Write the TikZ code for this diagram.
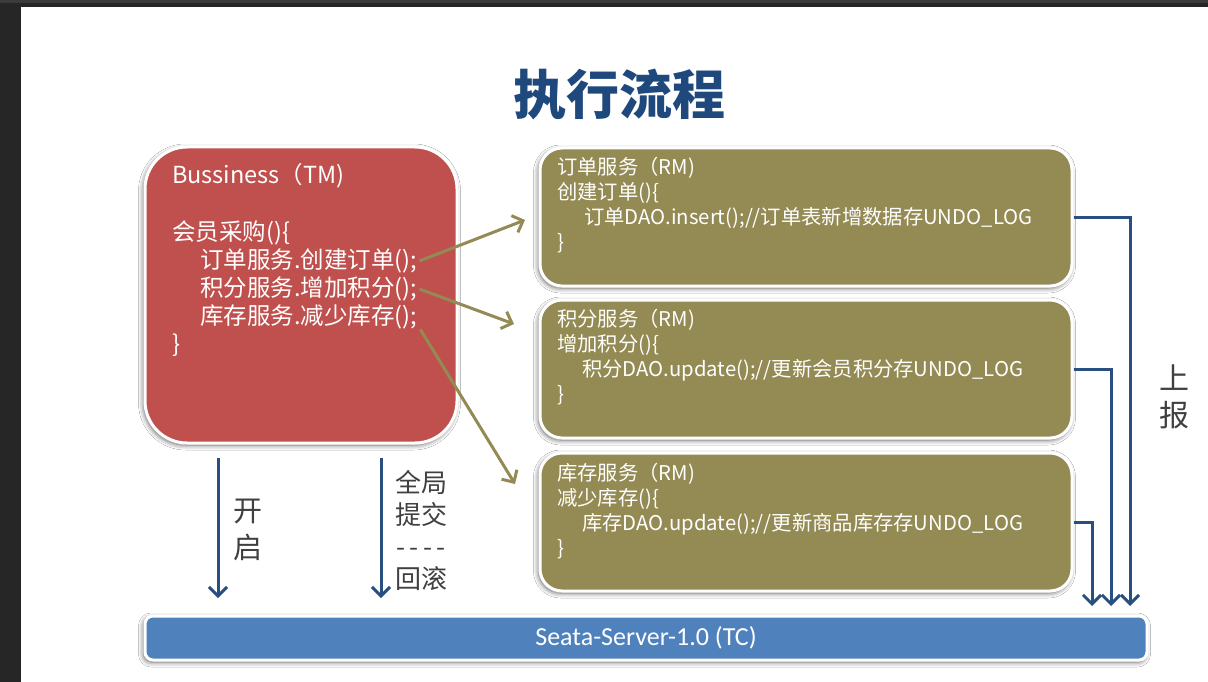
\documentclass[tikz,border=0pt]{standalone}
\usepackage{fontspec}
\setmainfont{Noto Sans CJK SC}
\newfontfamily\latinfont{Carlito}
\usetikzlibrary{arrows.meta,shadows.blur}

\definecolor{tmred}{HTML}{C0504D}
\definecolor{rmolive}{HTML}{948A54}
\definecolor{tcblue}{HTML}{4F81BD}
\definecolor{linkblue}{HTML}{284F80}
\definecolor{titleblue}{HTML}{1F497D}
\definecolor{labelgray}{HTML}{404040}

\begin{document}
\begin{tikzpicture}[x=1pt,y=-1pt,
  box/.style={draw=white,line width=3pt,inner sep=0pt,
    blur shadow={shadow xshift=-1.5pt,shadow yshift=-2pt,shadow blur radius=5pt,shadow opacity=65}},
  tmbox/.style={box,fill=tmred,rounded corners=42pt,minimum width=312pt,minimum height=296pt},
  rmbox/.style={box,fill=rmolive,rounded corners=22pt,minimum width=532pt,minimum height=138pt},
  tcbox/.style={box,fill=tcblue,rounded corners=8pt,minimum width=1002pt,minimum height=44pt,
    text=white,font=\latinfont\fontsize{26}{30}\selectfont},
  tmtxt/.style={anchor=west,text=white,inner sep=0pt,font=\fontsize{23.5}{28}\selectfont},
  rmtxt/.style={anchor=north west,align=left,text=white,inner sep=0pt,font=\fontsize{20.3}{25}\selectfont},
  note/.style={text=labelgray,align=center,inner sep=0pt},
  olivearrow/.style={rmolive,line width=3pt,-{Straight Barb[length=9pt,width=18pt]}},
  bluearrow/.style={linkblue,line width=3pt,-{Straight Barb[length=9pt,width=18pt]}}]
\useasboundingbox (0,0) rectangle (1208,682);

% Screen
\fill[black!85] (0,0) rectangle (1208,682);
\fill[black!77] (0,0) rectangle (1208,3);
\fill[white] (21,7) rectangle (1208,682);

% Title
\node[font=\fontsize{53}{60}\selectfont\bfseries,text=titleblue] (title) at (619,95) {执行流程};

% Boxes
\node[tmbox] (tm) at (301,295) {};
\node[rmbox] (rmA) at (806,217) {};
\node[rmbox] (rmB) at (806,369) {};
\node[rmbox] (rmC) at (806,522) {};
\node[tcbox] (tc) at (646,638) {Seata-Server-1.0 (TC)};

% TM code
\node[tmtxt] (tmhead) at (172,176) {Bussiness（TM)};
\node[tmtxt] (tmfun) at (172,233) {会员采购()\{};
\node[tmtxt] (callA) at (200,261) {订单服务.创建订单();};
\node[tmtxt] (callB) at (200,289) {积分服务.增加积分();};
\node[tmtxt] (callC) at (200,317) {库存服务.减少库存();};
\node[tmtxt] (tmend) at (172,345) {\}};

% RM code
\node[rmtxt] (rmAtxt) at (557,157) {订单服务（RM)\\创建订单()\{\\\hspace*{27pt}订单DAO.insert();//订单表新增数据存UNDO\_LOG\\\}};
\node[rmtxt] (rmBtxt) at (557,309) {积分服务（RM)\\增加积分()\{\\\hspace*{25pt}积分DAO.update();//更新会员积分存UNDO\_LOG\\\}};
\node[rmtxt] (rmCtxt) at (557,463) {库存服务（RM)\\减少库存()\{\\\hspace*{25pt}库存DAO.update();//更新商品库存存UNDO\_LOG\\\}};

% Calls
\coordinate (tipA) at (525,220);
\coordinate (tipB) at (514,324);
\coordinate (tipC) at (515,484);
\draw[olivearrow] ([xshift=2pt]callA.east) -- (tipA);
\draw[olivearrow] ([xshift=2pt]callB.east) -- (tipB);
\draw[olivearrow] ([xshift=3pt]callC.south east) -- (tipC);

% Begin / commit
\coordinate (openS) at (218,458);
\coordinate (openE) at (218,598);
\coordinate (voteS) at (381,458);
\coordinate (voteE) at (381,598);
\draw[bluearrow] (openS) -- (openE);
\draw[bluearrow] (voteS) -- (voteE);
\node[note,font=\fontsize{29}{37}\selectfont] (openlbl) at (248,530) {开\\启};
\node[note,font=\fontsize{26}{32}\selectfont] (votelbl) at (421,530) {全局\\提交\\-\kern4.5pt-\kern4.5pt-\kern4.5pt-\\回滚};

% Report
\coordinate (upA) at (1130,606);
\coordinate (upB) at (1111,606);
\coordinate (upC) at (1092,606);
\draw[bluearrow] (rmA.east) -| (upA);
\draw[bluearrow] (rmB.east) -| (upB);
\draw[bluearrow] (rmC.east) -| (upC);
\node[note,font=\fontsize{30}{37}\selectfont] (uplbl) at (1174,397) {上\\报};

\end{tikzpicture}
\end{document}
